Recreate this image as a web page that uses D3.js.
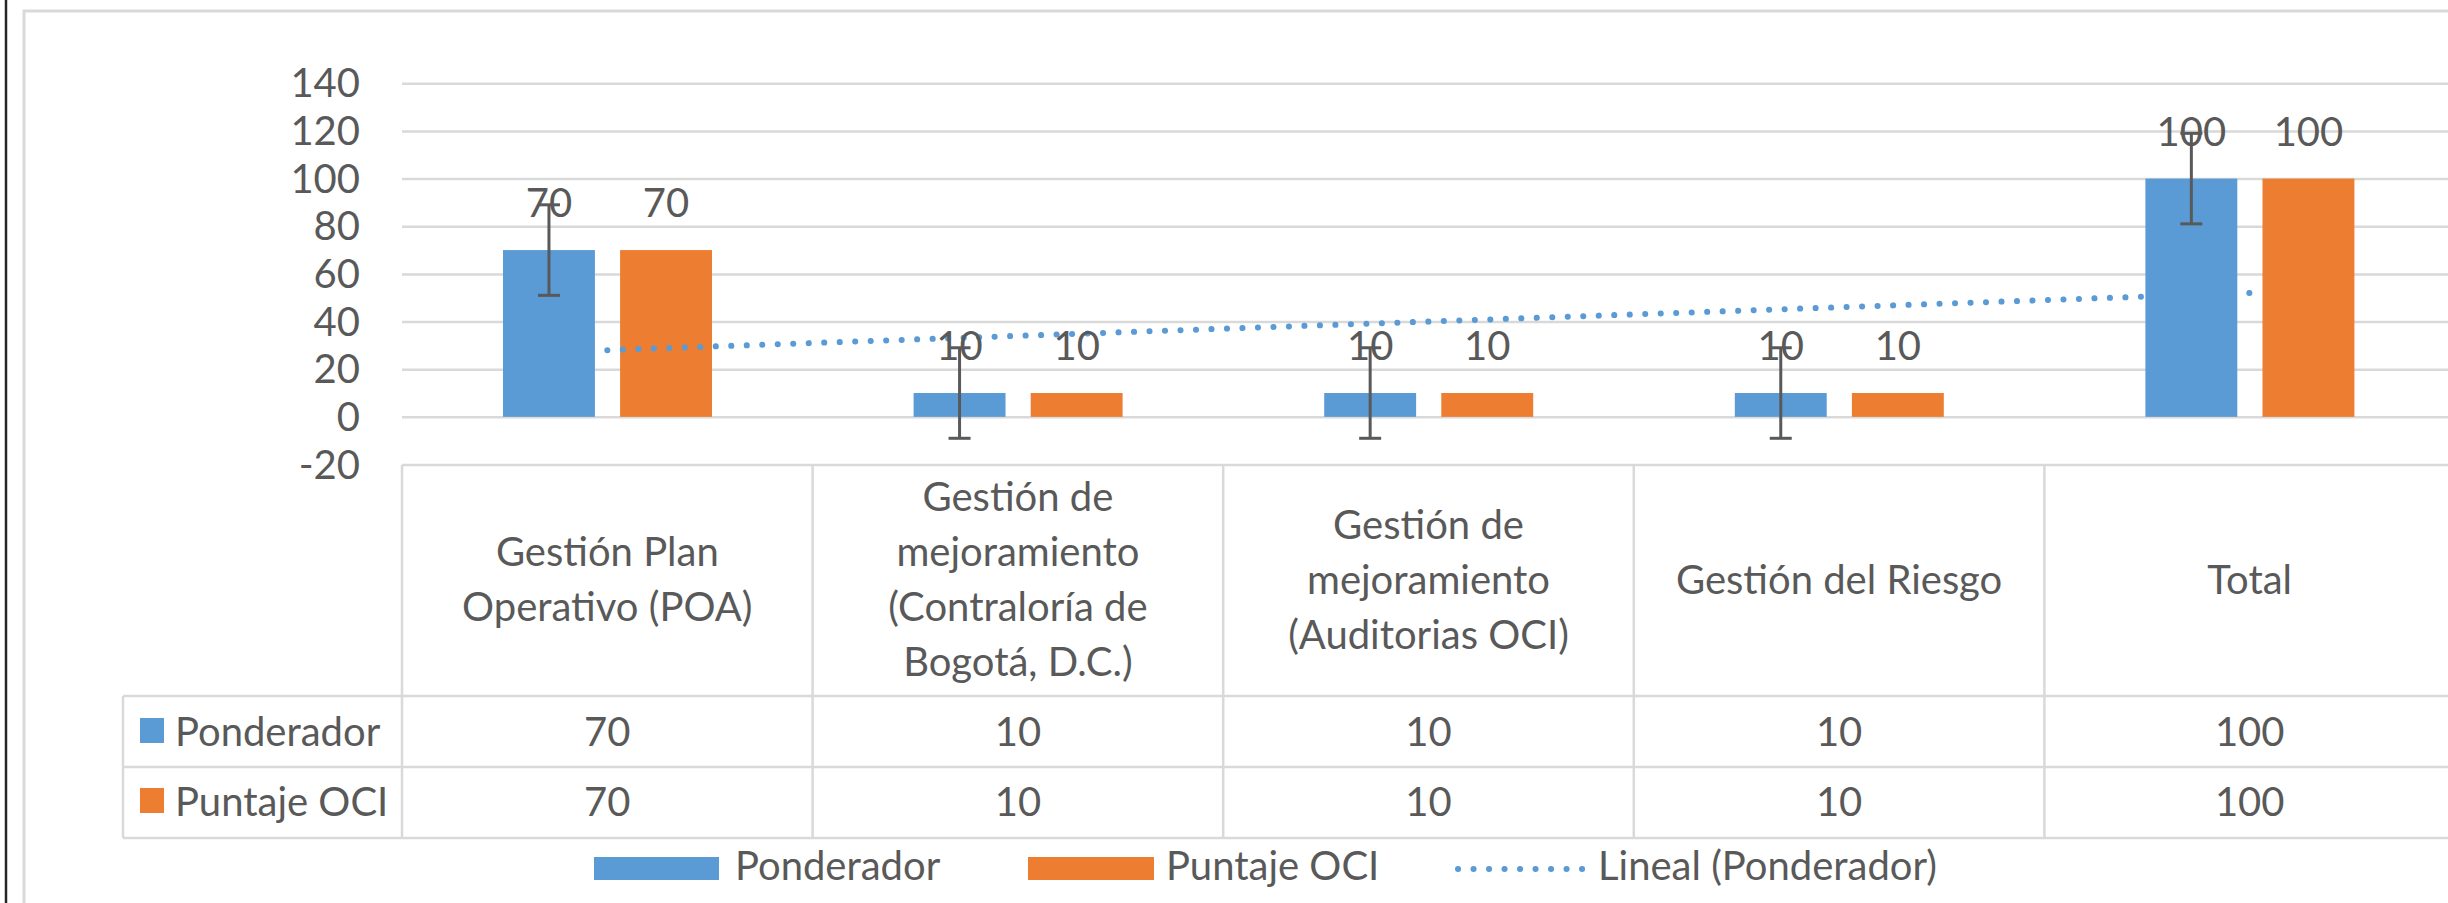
<!DOCTYPE html>
<html>
<head>
<meta charset="utf-8">
<script src="https://cdn.jsdelivr.net/npm/d3@7"></script>
<style>
  body { margin: 0; background: #fff; }
  text { font-family: Lato, "Open Sans", sans-serif; font-size: 40px; fill: #595959; }
</style>
</head>
<body>
<div id="chart"></div>
<script>
// data
const categories = [
  ["Gestión Plan", "Operativo (POA)"],
  ["Gestión de", "mejoramiento", "(Contraloría de", "Bogotá, D.C.)"],
  ["Gestión de", "mejoramiento", "(Auditorias OCI)"],
  ["Gestión del Riesgo"],
  ["Total"]
];
const seriesNames = ["Ponderador", "Puntaje OCI"];
const ponderador = [70, 10, 10, 10, 100];
const puntajeOCI = [70, 10, 10, 10, 100];
const yTicks = [-20, 0, 20, 40, 60, 80, 100, 120, 140];
const errorAmount = 19;          // error bars on Ponderador
const trendEnds = [28, 52];      // Lineal (Ponderador) at first / last category
const colors = { "Ponderador": "#5b9bd5", "Puntaje OCI": "#ed7d31" };

(function () {
  const width = 2448, height = 903;
  const svg = d3.select("#chart").append("svg")
    .attr("width", width)
    .attr("height", height);

  svg.append("rect").attr("width", width).attr("height", height).attr("fill", "#fff");

  // frame
  svg.append("rect")
    .attr("x", 24).attr("y", 11)
    .attr("width", 2500).attr("height", 1000)
    .attr("fill", "none").attr("stroke", "#d9d9d9").attr("stroke-width", 3);
  svg.append("line")
    .attr("x1", 6).attr("x2", 6).attr("y1", 0).attr("y2", height)
    .attr("stroke", "#262626").attr("stroke-width", 2.5);

  const plotLeft = 402, plotRight = 2455;
  const x0 = d3.scaleBand().domain(d3.range(categories.length)).range([plotLeft, plotRight]);
  const x1 = d3.scaleBand().domain(seriesNames).range([101, 310]).paddingInner(0.215);
  const y = d3.scaleLinear().domain([-20, 140]).range([464.5, 83.3]);

  const values = { "Ponderador": ponderador, "Puntaje OCI": puntajeOCI };

  // gridlines + y labels
  const yAxis = svg.append("g")
    .attr("transform", `translate(${plotLeft},0)`)
    .call(d3.axisLeft(y).tickValues(yTicks).tickFormat(d => String(d))
      .tickSize(-(width + 20 - plotLeft)).tickPadding(42));
  yAxis.select(".domain").remove();
  yAxis.selectAll(".tick line").attr("stroke", "#d9d9d9").attr("stroke-width", 2.5);
  yAxis.selectAll(".tick text")
    .attr("fill", "#595959")
    .style("font-family", "Lato, 'Open Sans', sans-serif")
    .style("font-size", "40px")
    .attr("dy", "0.34em");

  // data table
  const tableTop = 465, headBottom = 696, row1Bottom = 767, row2Bottom = 838, rowHeadLeft = 123;
  const tbl = svg.append("g").attr("stroke", "#d9d9d9").attr("stroke-width", 2.5);
  [headBottom, row1Bottom, row2Bottom].forEach(yy => {
    tbl.append("line").attr("x1", rowHeadLeft).attr("x2", width + 10).attr("y1", yy).attr("y2", yy);
  });
  d3.range(categories.length + 1).forEach(i => {
    const xx = plotLeft + i * x0.step();
    tbl.append("line").attr("x1", xx).attr("x2", xx).attr("y1", tableTop).attr("y2", row2Bottom);
  });
  tbl.append("line").attr("x1", rowHeadLeft).attr("x2", rowHeadLeft).attr("y1", headBottom).attr("y2", row2Bottom);

  // category header text
  const lh = 55, headCenter = 579.5;
  categories.forEach((lines, i) => {
    const cx = x0(i) + x0.bandwidth() / 2;
    lines.forEach((ln, j) => {
      svg.append("text")
        .attr("x", cx)
        .attr("y", headCenter + (j - (lines.length - 1) / 2) * lh + 14)
        .attr("text-anchor", "middle")
        .text(ln);
    });
  });

  // table rows
  const rowBase = [746, 816];
  seriesNames.forEach((s, r) => {
    svg.append("rect")
      .attr("x", 140).attr("y", rowBase[r] - 28)
      .attr("width", 24).attr("height", 25)
      .attr("fill", colors[s]);
    svg.append("text").attr("x", 175).attr("y", rowBase[r]).text(s);
    values[s].forEach((v, i) => {
      svg.append("text")
        .attr("x", x0(i) + x0.bandwidth() / 2)
        .attr("y", rowBase[r])
        .attr("text-anchor", "middle")
        .text(v);
    });
  });

  const barX = (s, i) => x0(i) + x1(s);
  const drawBars = s => {
    svg.append("g").selectAll("rect")
      .data(values[s])
      .enter().append("rect")
      .attr("x", (d, i) => barX(s, i))
      .attr("y", d => y(d))
      .attr("width", x1.bandwidth())
      .attr("height", d => y(0) - y(d))
      .attr("fill", colors[s]);
  };

  drawBars("Puntaje OCI");

  // trendline
  const trend = d3.line()
    .x(d => x0(d.i) + x0.bandwidth() / 2)
    .y(d => y(d.v));
  svg.append("path")
    .datum([{ i: 0, v: trendEnds[0] }, { i: categories.length - 1, v: trendEnds[1] }])
    .attr("d", trend)
    .attr("fill", "none")
    .attr("stroke", colors["Ponderador"])
    .attr("stroke-width", 6)
    .attr("stroke-linecap", "round")
    .attr("stroke-dasharray", "0.1 15.4");

  drawBars("Ponderador");

  // data labels
  seriesNames.forEach(s => {
    values[s].forEach((v, i) => {
      svg.append("text")
        .attr("x", barX(s, i) + x1.bandwidth() / 2)
        .attr("y", y(v) - 33)
        .attr("text-anchor", "middle")
        .text(v);
    });
  });

  // error bars
  const eb = svg.append("g").attr("stroke", "#595959").attr("stroke-width", 3);
  ponderador.forEach((v, i) => {
    const cx = barX("Ponderador", i) + x1.bandwidth() / 2;
    eb.append("line").attr("x1", cx).attr("x2", cx).attr("y1", y(v + errorAmount)).attr("y2", y(v - errorAmount));
    [v + errorAmount, v - errorAmount].forEach(e => {
      eb.append("line").attr("x1", cx - 11).attr("x2", cx + 11).attr("y1", y(e)).attr("y2", y(e));
    });
  });

  // legend
  const legY = 880;
  svg.append("rect").attr("x", 594).attr("y", legY - 23).attr("width", 125).attr("height", 23).attr("fill", colors["Ponderador"]);
  svg.append("text").attr("x", 735).attr("y", legY).text("Ponderador");
  svg.append("rect").attr("x", 1028).attr("y", legY - 23).attr("width", 126).attr("height", 23).attr("fill", colors["Puntaje OCI"]);
  svg.append("text").attr("x", 1166).attr("y", legY).text("Puntaje OCI");
  svg.append("line")
    .attr("x1", 1458).attr("x2", 1584).attr("y1", legY - 11).attr("y2", legY - 11)
    .attr("stroke", colors["Ponderador"]).attr("stroke-width", 6)
    .attr("stroke-linecap", "round").attr("stroke-dasharray", "0.1 15.4");
  svg.append("text").attr("x", 1598).attr("y", legY).text("Lineal (Ponderador)");
})();
</script>
</body>
</html>
